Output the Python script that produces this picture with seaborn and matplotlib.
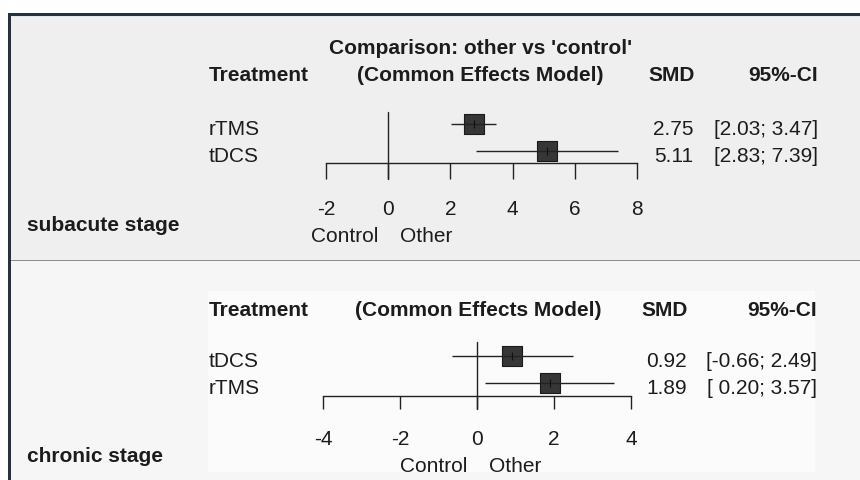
import matplotlib
matplotlib.use("Agg")
import matplotlib.pyplot as plt
import seaborn as sns
import pandas as pd
from matplotlib.patches import Rectangle
from matplotlib import transforms as mtrans

# ---------------- data ----------------
sub_treat = ["rTMS", "tDCS"]
sub_smd = [2.75, 5.11]
sub_lo = [2.03, 2.83]
sub_hi = [3.47, 7.39]
sub_ticks = [-2, 0, 2, 4, 6, 8]

chr_treat = ["tDCS", "rTMS"]
chr_smd = [0.92, 1.89]
chr_lo = [-0.66, 0.20]
chr_hi = [2.49, 3.57]
chr_ticks = [-4, -2, 0, 2, 4]

stage_labels = ["subacute stage", "chronic stage"]
title_text = "Comparison: other vs 'control'"
model_text = "(Common Effects Model)"
col_headers = ["Treatment", "SMD", "95%-CI"]
dir_labels = ["Control", "Other"]

# ---------------- style ----------------
sns.set_theme(style="white")
plt.rcParams["font.family"] = ["Liberation Sans", "DejaVu Sans"]
plt.rcParams["axes.unicode_minus"] = False
FS = 15
TXT = "#1c1c1c"
LINE = "#222222"

W, H = 860, 481
fig = plt.figure(figsize=(8.6, 4.81), dpi=100)
fig.patch.set_facecolor("white")
bg = fig.add_axes([0, 0, 1, 1], zorder=0)
bg.set_xlim(0, W)
bg.set_ylim(H, 0)
bg.axis("off")

# panels / frame
bg.add_patch(Rectangle((8, 14), W - 8, H - 14, fc="#263140", ec="none"))
bg.add_patch(Rectangle((11, 17), W - 11, 244, fc="#efefef", ec="none"))
bg.add_patch(Rectangle((11, 17), W - 11, 1.2, fc="#dde8f4", ec="none"))
bg.add_patch(Rectangle((11, 260.5), W - 11, 1.4, fc="#8c8c8c", ec="none"))
bg.add_patch(Rectangle((11, 261.9), W - 11, H - 261.9, fc="#f6f6f6", ec="none"))
bg.add_patch(Rectangle((208, 292), 607, 181, fc="#fbfbfb", ec="none"))


def ax_px(l, t, r, b):
    return fig.add_axes([l / W, 1 - b / H, (r - l) / W, (b - t) / H], zorder=2)


def forest(box, xlim, ticks, treat, smd, lo, hi, row_top_px, tick_px,
           smd_right, ci_right, dir_off_px):
    l, t, r, b = box
    ax = ax_px(l, t, r, b)
    hpx = b - t
    df = pd.DataFrame({"treat": treat, "smd": smd, "lo": lo, "hi": hi})
    df["row"] = range(len(df))
    ax.set_facecolor("none")
    # CI lines
    ax.hlines(df["row"], df["lo"], df["hi"], color=LINE, lw=1.0, zorder=4)
    # squares
    sns.scatterplot(data=df, x="smd", y="row", marker="s", s=200,
                    color="#363636", edgecolor="#1a1a1a", linewidth=0.8,
                    ax=ax, zorder=3, legend=False)
    ax.scatter(df["smd"], df["row"], marker="|", s=40, color="#111111",
               linewidths=0.8, zorder=5)
    ax.set_xlim(*xlim)
    spacing = 27.0
    ax.set_ylim(len(df) - 1 + (hpx - row_top_px - spacing * (len(df) - 1)) / spacing,
                -row_top_px / spacing)
    ax.axvline(0, ymin=-tick_px / hpx, ymax=1, color=LINE, lw=1.0,
               clip_on=False, zorder=2)
    for s in ["top", "left", "right"]:
        ax.spines[s].set_visible(False)
    ax.spines["bottom"].set_bounds(xlim[0], xlim[1])
    ax.spines["bottom"].set_color(LINE)
    ax.spines["bottom"].set_linewidth(1.0)
    ax.set_xticks(ticks)
    ax.set_yticks([])
    ax.set_xlabel("")
    ax.set_ylabel("")
    ax.tick_params(axis="x", direction="out", length=tick_px * 0.72,
                   width=1.0, color=LINE, pad=14.4, labelsize=FS,
                   labelcolor=TXT, bottom=True)
    # direction labels
    ax.annotate(dir_labels[0], xy=(0, 0), xycoords=("data", "axes fraction"),
                xytext=(-10, -dir_off_px), textcoords="offset pixels",
                ha="right", va="baseline", fontsize=FS, color=TXT)
    ax.annotate(dir_labels[1], xy=(0, 0), xycoords=("data", "axes fraction"),
                xytext=(12, -dir_off_px), textcoords="offset pixels",
                ha="left", va="baseline", fontsize=FS, color=TXT)
    # row texts (x in figure px, y in row units)
    wlo = max(len(f"{v:.2f}") for v in df["lo"])
    whi = max(len(f"{v:.2f}") for v in df["hi"])
    trans = mtrans.blended_transform_factory(bg.transData, ax.transData)
    trans = trans + mtrans.ScaledTranslation(0, -10.5 / 100, fig.dpi_scale_trans)
    for _, rw in df.iterrows():
        bg.text(209, rw["row"], rw["treat"], transform=trans, ha="left",
                va="baseline", fontsize=FS, color=TXT, zorder=6)
        bg.text(smd_right, rw["row"], f"{rw['smd']:.2f}", transform=trans,
                ha="right", va="baseline", fontsize=FS, color=TXT, zorder=6)
        bg.text(ci_right, rw["row"],
                f"[{rw['lo']:>{wlo}.2f}; {rw['hi']:>{whi}.2f}]",
                transform=trans, ha="right", va="baseline", fontsize=FS,
                color=TXT, zorder=6)
    return ax


forest((326, 113, 637, 164), (-2, 8), sub_ticks, sub_treat, sub_smd, sub_lo,
       sub_hi, 12, 16, 693, 818, 78)
forest((323, 343, 631, 397), (-4, 4), chr_ticks, chr_treat, chr_smd, chr_lo,
       chr_hi, 14, 13, 687, 817, 75)

# headers
bold = dict(fontsize=FS, fontweight="bold", color=TXT, va="baseline")
bg.text(481, 54, title_text, ha="center", **bold)
bg.text(209, 81, col_headers[0], ha="left", **bold)
bg.text(480.5, 81, model_text, ha="center", **bold)
bg.text(695, 81, col_headers[1], ha="right", **bold)
bg.text(818, 81, col_headers[2], ha="right", **bold)
bg.text(27, 231, stage_labels[0], ha="left", **bold)

bg.text(209, 316, col_headers[0], ha="left", **bold)
bg.text(478, 316, model_text, ha="center", **bold)
bg.text(688, 316, col_headers[1], ha="right", **bold)
bg.text(817, 316, col_headers[2], ha="right", **bold)
bg.text(27, 462, stage_labels[1], ha="left", **bold)

fig.savefig("out.png", dpi=100)
